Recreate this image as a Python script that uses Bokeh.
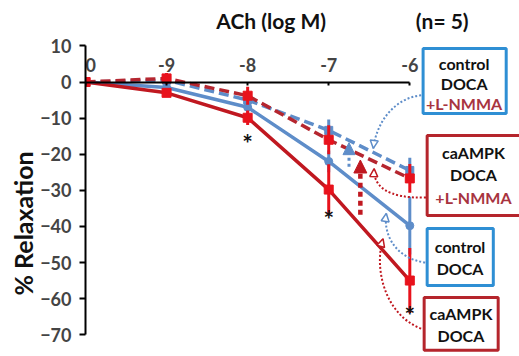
from bokeh.plotting import figure
from bokeh.models import Range1d, LinearAxis, FixedTicker, Label, Arrow, NormalHead, Title
from bokeh.core.properties import value
from bokeh.embed import file_html
from bokeh.resources import INLINE

# ---------------- data ----------------
x_pos = [-10, -9, -8, -7, -6]
x_tick_labels = ["\u20070", "-9", "-8", "-7", "-6"]
y_ticks = [-70, -60, -50, -40, -30, -20, -10, 0, 10]

ca_doca = [0, -3.0, -9.9, -29.8, -55.0]
ca_doca_err = [0, 1.0, 2.0, 7.0, 9.0]
ctl_doca = [0, -1.5, -7.0, -22.0, -39.8]
ctl_doca_err = [0, 1.0, 1.5, 3.0, 8.0]
ctl_lnmma = [0, 0.5, -5.0, -13.4, -24.5]
ctl_lnmma_err = [0, 1.0, 2.0, 3.0, 3.5]
ca_lnmma = [0, 1.0, -3.8, -16.0, -26.7]
ca_lnmma_err = [0, 1.5, 2.5, 4.0, 4.0]

star_x = [-8, -7, -6]
star_y = [-17.0, -38.0, -64.5]

RED = "#c01820"
RED_M = "#e8121c"
RED_D = "#b5262f"
BLUE = "#5e8dc9"
BOX_BLUE = "#2f8fd4"
BOX_RED = "#b5252c"
TXT_RED = "#a8343f"
FONT = "Lato"

# ---------------- figure ----------------
p = figure(width=519, height=356, output_backend="svg", toolbar_location=None,
           x_axis_location=None, y_axis_location=None,
           x_range=Range1d(-10.0, -4.647), y_range=Range1d(-74.93, 22.58),
           min_border_left=85, min_border_top=0, min_border_right=0, min_border_bottom=4)
p.outline_line_color = None
p.xgrid.visible = False
p.ygrid.visible = False
p.background_fill_color = "white"

xa = LinearAxis(fixed_location=0, bounds=(-10, -6), ticker=FixedTicker(ticks=x_pos),
                major_label_overrides={x: l for x, l in zip(x_pos, x_tick_labels)},
                major_tick_out=3, major_tick_in=0, minor_tick_out=0, minor_tick_in=0,
                axis_line_width=2, major_tick_line_width=2,
                major_label_text_font=FONT, major_label_text_font_style="bold",
                major_label_text_font_size="18px", major_label_standoff=-31)
p.add_layout(xa, "below")

ya = LinearAxis(bounds=(-70, 10), ticker=FixedTicker(ticks=y_ticks),
                major_tick_out=6, major_tick_in=0, minor_tick_out=0, minor_tick_in=0,
                axis_line_width=2, major_tick_line_width=2,
                major_label_text_font=FONT, major_label_text_font_style="bold",
                major_label_text_font_size="18px", major_label_standoff=8)
p.add_layout(ya, "left")
p.add_layout(Title(text="% Relaxation", align="left", offset=57, text_font=FONT,
                   text_font_style="bold", text_font_size="25px", standoff=0,
                   text_color="#111111"), "left")

# ---------------- series ----------------
def series(yv, err, color, mcolor, dash, marker, msize):
    lo = [v - e for v, e in zip(yv, err)]
    hi = [v + e for v, e in zip(yv, err)]
    p.segment(x0=x_pos, y0=lo, x1=x_pos, y1=hi, line_color=mcolor, line_width=3)
    p.line(x_pos, yv, line_color=color, line_width=3.5, line_dash=dash)
    p.scatter(x_pos, yv, marker=marker, size=msize, fill_color=mcolor, line_color=mcolor)

series(ctl_doca, ctl_doca_err, BLUE, BLUE, "solid", "circle", 8)
series(ca_doca, ca_doca_err, RED, RED_M, "solid", "square", 9)
series(ctl_lnmma, ctl_lnmma_err, BLUE, BLUE, "10 5", "square", 8)
series(ca_lnmma, ca_lnmma_err, RED_D, RED_M, "10 5", "square", 9)

p.text(x=star_x, y=star_y, text=["*"] * 3, text_font=value(FONT), text_font_style="bold",
       text_font_size="25px", text_align="center", text_baseline="middle", text_color="#111111")

# vertical shift arrows
p.add_layout(Arrow(x_start=-6.61, y_start=-36.8, x_end=-6.61, y_end=-21.6,
                   line_color=RED, line_width=4.5, line_dash="5 4",
                   end=NormalHead(size=13, fill_color=RED, line_color=RED)))
p.add_layout(Arrow(x_start=-6.75, y_start=-23.5, x_end=-6.75, y_end=-16.8,
                   line_color=BLUE, line_width=3, line_dash="3 3",
                   end=NormalHead(size=12, fill_color=BLUE, line_color=BLUE)))

# ---------------- annotation boxes ----------------
boxes = [
    (-5.836, -4.811, 9.3, -8.7, BOX_BLUE, ["control", "DOCA", "+L-NMMA"], ["#111111", "#111111", TXT_RED], -5.33, [5.1, -0.4, -6.0]),
    (-5.786, -4.60, -14.8, -37.0, BOX_RED, ["caAMPK", "DOCA", "+L-NMMA"], ["#111111", "#111111", TXT_RED], -5.215, [-19.5, -25.6, -32.0]),
    (-5.786, -4.97, -40.6, -56.4, BOX_BLUE, ["control", "DOCA"], ["#111111", "#111111"], -5.38, [-45.6, -51.7]),
    (-5.823, -4.91, -59.7, -74.3, BOX_RED, ["caAMPK", "DOCA"], ["#111111", "#111111"], -5.37, [-64.1, -70.2]),
]
for x0, x1, yt, yb, col, lines, lcols, tx, tys in boxes:
    p.quad(left=[x0], right=[x1], top=[yt], bottom=[yb], fill_color="white",
           line_color=col, line_width=3)
    p.text(x=[tx] * len(lines), y=tys, text=lines, text_color=lcols,
           text_font=value(FONT), text_font_size="16px", text_font_style="bold",
           text_align="center", text_baseline="middle")

# curved dotted connectors (start, control1, control2, end)
curves = [
    ((-5.86, -3.7), (-6.17, -4.3), (-6.41, -10.7), (-6.45, -18.4), BLUE),
    ((-5.80, -32.0), (-6.29, -32.3), (-6.45, -28.7), (-6.44, -24.0), RED),
    ((-5.81, -50.0), (-6.17, -48.9), (-6.33, -42.5), (-6.29, -36.4), BLUE),
    ((-5.86, -68.3), (-6.29, -64.7), (-6.45, -52.2), (-6.33, -43.4), RED),
]
for s, c0, c1, e, col in curves:
    p.bezier(x0=[s[0]], y0=[s[1]], x1=[e[0]], y1=[e[1]], cx0=[c0[0]], cy0=[c0[1]],
             cx1=[c1[0]], cy1=[c1[1]], line_color=col, line_width=2, line_dash="2 2")
    p.add_layout(Arrow(x_start=c1[0], y_start=c1[1], x_end=e[0], y_end=e[1],
                       line_alpha=0,
                       end=NormalHead(size=8, fill_color="white", line_color=col, line_width=1.5)))

# ---------------- titles ----------------
p.add_layout(Label(x=-7.71, y=17.0, text="ACh (log M)", text_font=FONT, text_font_style="bold",
                   text_font_size="21px", text_align="center", text_baseline="middle",
                   text_color="#111111"))
p.add_layout(Label(x=-5.60, y=17.0, text="(n= 5)", text_font=FONT, text_font_style="bold",
                   text_font_size="21px", text_align="center", text_baseline="middle",
                   text_color="#111111"))

open("out.html", "w").write(file_html(p, INLINE))
